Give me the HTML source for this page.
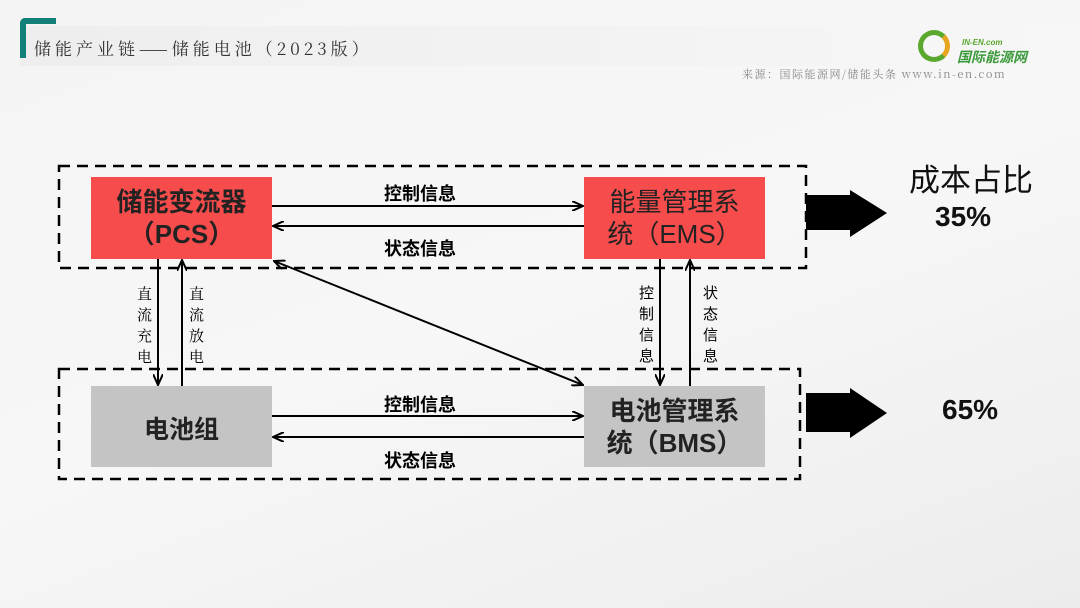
<!DOCTYPE html>
<html><head><meta charset="utf-8"><style>
body{margin:0;width:1080px;height:608px;overflow:hidden;background:linear-gradient(160deg,#f4f4f4 0%,#f7f7f7 50%,#ececec 100%);font-family:"Liberation Sans","Noto Sans CJK SC",sans-serif;position:relative}
.t{position:absolute;white-space:nowrap}
</style></head><body>
<div style="position:absolute;left:20px;top:26px;width:1060px;height:40px;background:linear-gradient(90deg,#eeeeee,#f3f3f3 60%,#f7f7f7)"></div>
<div style="position:absolute;left:20px;top:18px;width:36px;height:40px;border-left:6px solid #127f78;border-top:6px solid #127f78;border-top-left-radius:5px;box-sizing:border-box"></div>
<div class="t" style="left:34px;top:35px;font-size:17px;letter-spacing:4px;color:#333;font-family:'Noto Serif CJK SC',serif">储能产业链——储能电池（2023版）</div>
<div class="t" style="left:742px;top:66px;font-size:11px;letter-spacing:1.5px;color:#888;font-family:'Noto Serif CJK SC',serif">来源：国际能源网/储能头条 www.in-en.com</div>
<div style="position:absolute;left:918px;top:30px;width:22px;height:22px;border:5px solid #5aa82e;border-radius:50%;border-right-color:#e8a520"></div>
<div class="t" style="left:962px;top:38px;font-size:8px;font-weight:bold;color:#5aa82e;font-style:italic">IN-EN.com</div>
<div class="t" style="left:957px;top:47px;font-size:14px;font-weight:bold;color:#3a9a3a;font-style:italic">国际能源网</div>
<svg width="1080" height="608" style="position:absolute;left:0;top:0">
<defs><marker id="a" markerWidth="12" markerHeight="10" refX="11" refY="5" orient="auto-start-reverse" markerUnits="userSpaceOnUse"><path d="M0,0 L11,5 L0,10" fill="none" stroke="#000" stroke-width="2"/></marker></defs>
<g fill="none" stroke="#000" stroke-width="2.5" stroke-dasharray="11,7">
<rect x="59" y="166" width="747" height="102"/>
<rect x="59" y="369" width="741" height="110"/>
</g>
<rect x="91" y="177" width="181" height="82" fill="#f74c4c"/>
<rect x="584" y="177" width="181" height="82" fill="#f74c4c"/>
<rect x="91" y="386" width="181" height="81" fill="#c4c4c4"/>
<rect x="584" y="386" width="181" height="81" fill="#c4c4c4"/>
<g stroke="#000" stroke-width="2" marker-end="url(#a)">
<line x1="272" y1="206" x2="583" y2="206"/>
<line x1="584" y1="226" x2="273" y2="226"/>
<line x1="272" y1="416" x2="583" y2="416"/>
<line x1="584" y1="437" x2="273" y2="437"/>
<line x1="158" y1="259" x2="158" y2="385"/>
<line x1="182" y1="386" x2="182" y2="260"/>
<line x1="660" y1="259" x2="660" y2="385"/>
<line x1="690" y1="386" x2="690" y2="260"/>
<line x1="274" y1="261" x2="583" y2="385" marker-start="url(#a)"/>
</g>
<path d="M806,195 H850 V190 L887,213 L850,237 V230 H806Z" fill="#000"/>
<path d="M806,393 H850 V388 L887,413 L850,438 V432 H806Z" fill="#000"/>
</svg>
<div class="t" style="left:91px;top:186px;width:181px;text-align:center;font-size:26px;font-weight:bold;line-height:32px;color:#222">储能变流器<br>（PCS）</div>
<div class="t" style="left:584px;top:186px;width:181px;text-align:center;font-size:26px;line-height:32px;color:#222">能量管理系<br>统（EMS）</div>
<div class="t" style="left:91px;top:410px;width:181px;text-align:center;font-size:25px;font-weight:bold;color:#222">电池组</div>
<div class="t" style="left:584px;top:395px;width:181px;text-align:center;font-size:26px;font-weight:bold;line-height:32px;color:#222">电池管理系<br>统（BMS）</div>
<div class="t" style="left:384px;top:180px;font-size:18px;font-weight:bold">控制信息</div>
<div class="t" style="left:384px;top:235px;font-size:18px;font-weight:bold">状态信息</div>
<div class="t" style="left:384px;top:391px;font-size:18px;font-weight:bold">控制信息</div>
<div class="t" style="left:384px;top:447px;font-size:18px;font-weight:bold">状态信息</div>
<div class="t" style="left:137px;top:283px;width:16px;font-size:15px;line-height:21px;font-family:'Noto Serif CJK SC',serif;white-space:normal">直流充电</div>
<div class="t" style="left:189px;top:283px;width:16px;font-size:15px;line-height:21px;font-family:'Noto Serif CJK SC',serif;white-space:normal">直流放电</div>
<div class="t" style="left:639px;top:283px;width:16px;font-size:15px;line-height:21px;white-space:normal">控制信息</div>
<div class="t" style="left:703px;top:283px;width:16px;font-size:15px;line-height:21px;white-space:normal">状态信息</div>
<div class="t" style="left:909px;top:155px;font-size:31px;color:#111">成本占比</div>
<div class="t" style="left:935px;top:201px;font-size:28px;font-weight:bold;color:#111">35%</div>
<div class="t" style="left:942px;top:394px;font-size:28px;font-weight:bold;color:#111">65%</div>
</body></html>
